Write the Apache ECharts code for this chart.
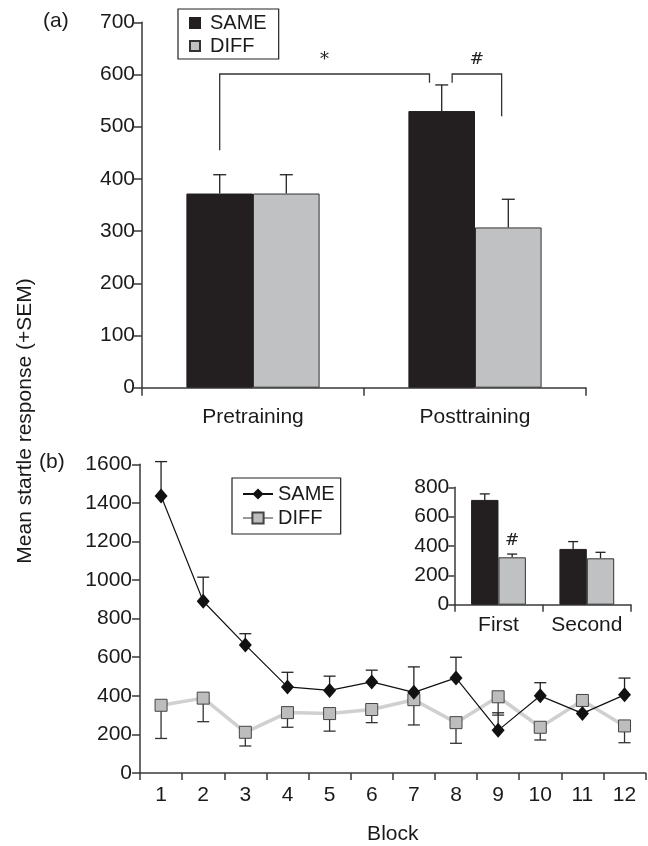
<!DOCTYPE html>
<html><head><meta charset="utf-8">
<script src="https://cdn.jsdelivr.net/npm/echarts@6/dist/echarts.min.js"></script>
<style>html,body{margin:0;padding:0;background:#fff}#c{width:648px;height:846px}</style>
</head><body><div id="c"></div>
<script>
// ---------- Panel (a) ----------
const phaseCats = ['Pretraining', 'Posttraining'];
const phaseSame = [372, 530];
const phaseSameSEM = [36, 50];
const phaseDiff = [372, 307];
const phaseDiffSEM = [36, 54];
const sigLabels = ['*', '#'];
const sigLevels = [[455, 601, 584], [584, 601, 520]]; // left leg bottom, top, right leg bottom
const sigLabelY = 628;

// ---------- Panel (b) ----------
const blocks = ['1','2','3','4','5','6','7','8','9','10','11','12'];
const sameBlock = [1436, 890, 664, 446, 428, 472, 418, 493, 221, 400, 309, 405];
const sameBlockSEM = [178, 125, 58, 76, 74, 61, 132, 107, 91, 68, 10, 87];
const diffBlock = [351, 388, 211, 313, 308, 329, 380, 261, 395, 237, 376, 244];
const diffBlockSEM = [172, 122, 71, 76, 91, 68, 131, 107, 95, 66, 10, 87];

// ---------- Inset ----------
const insetCats = ['First', 'Second'];
const insetSame = [714, 380];
const insetSameSEM = [41, 50];
const insetDiff = [323, 316];
const insetDiffSEM = [22, 41];
const insetSig = ['#', ''];
const insetSigY = 437;

const FONT = 'Liberation Sans, Arial, Helvetica, sans-serif';
const AX = '#3a3a3a';
const TXT = '#1a1a1a';
const BLACK = '#231f20';
const GRAY = '#c0c1c3';
const FS = 21;

function errRender(offFrac, cap, dir, color) {
  return function (params, api) {
    const c = api.value(0), v = api.value(1), s = api.value(2);
    const w = api.size([1, 0])[0];
    const p0 = api.coord([c, v]);
    const p1 = api.coord([c, v + dir * s]);
    const x = p0[0] + offFrac * w;
    return { type: 'group', children: [
      { type: 'line', shape: { x1: x, y1: p0[1], x2: x, y2: p1[1] }, style: { stroke: color, lineWidth: 1.3 } },
      { type: 'line', shape: { x1: x - cap / 2, y1: p1[1], x2: x + cap / 2, y2: p1[1] }, style: { stroke: color, lineWidth: 1.3 } }
    ]};
  };
}

function lbl(margin) {
  return { color: TXT, fontFamily: FONT, fontSize: FS, margin: margin, interval: 0, hideOverlap: false,
    formatter: function (v) { return String(v); } };
}
function line() { return { show: true, lineStyle: { color: AX, width: 1.5 } }; }
function tick(len) { return { show: true, lineStyle: { color: AX, width: 1.5 }, length: len }; }

const chart = echarts.init(document.getElementById('c'), null, { renderer: 'canvas' });

const option = {
  animation: false,
  backgroundColor: '#fff',
  grid: [
    { left: 142, top: 22.3, width: 444, height: 365.4 },
    { left: 140, top: 464.3, width: 505.6, height: 319.2 },
    { left: 454.3, top: 487.3, width: 176.7, height: 117.4 }
  ],
  xAxis: [
    { gridIndex: 0, type: 'category', data: phaseCats, axisLine: line(), axisTick: tick(8),
      splitLine: { show: false }, axisLabel: lbl(19) },
    { gridIndex: 1, type: 'category', data: blocks, axisLine: line(), axisTick: tick(7),
      splitLine: { show: false }, axisLabel: lbl(12),
      name: 'Block', nameLocation: 'middle', nameGap: 51,
      nameTextStyle: { color: TXT, fontFamily: FONT, fontSize: FS } },
    { gridIndex: 2, type: 'category', data: insetCats, axisLine: line(), axisTick: tick(7),
      splitLine: { show: false }, axisLabel: lbl(10) }
  ],
  yAxis: [
    { gridIndex: 0, type: 'value', min: 0, max: 700, interval: 100, axisLine: line(), axisTick: tick(8),
      splitLine: { show: false }, axisLabel: lbl(7) },
    { gridIndex: 1, type: 'value', min: 0, max: 1600, interval: 200, axisLine: line(), axisTick: tick(8),
      splitLine: { show: false }, axisLabel: lbl(8) },
    { gridIndex: 2, type: 'value', min: 0, max: 800, interval: 200, axisLine: line(), axisTick: tick(6),
      splitLine: { show: false }, axisLabel: lbl(5) }
  ],
  legend: [
    { left: 178, top: 9, orient: 'vertical', data: ['SAME', 'DIFF'],
      backgroundColor: '#fff', borderColor: '#222', borderWidth: 1.2, borderRadius: 0,
      padding: [4, 12, 3, 11], itemGap: 3, itemWidth: 10, itemHeight: 10, icon: 'rect',
      textStyle: { color: TXT, fontFamily: FONT, fontSize: 20, padding: [0, 0, 0, 5] } },
    { left: 232, top: 478, orient: 'vertical',
      data: [ { name: 'SAME ' }, { name: 'DIFF ', lineStyle: { color: '#333', width: 1 } } ],
      formatter: function (n) { return n.trim(); },
      backgroundColor: '#fff', borderColor: '#222', borderWidth: 1.2, borderRadius: 0,
      padding: [6, 6, 6, 10], itemGap: 4, itemWidth: 30, itemHeight: 14,
      textStyle: { color: TXT, fontFamily: FONT, fontSize: 20, padding: [0, 0, 0, 0] } }
  ],
  series: [
    // Panel (a) bars
    { name: 'SAME', type: 'bar', xAxisIndex: 0, yAxisIndex: 0, data: phaseSame, barWidth: '30%', barGap: '0%',
      itemStyle: { color: BLACK, borderColor: BLACK, borderWidth: 1 } },
    { name: 'DIFF', type: 'bar', xAxisIndex: 0, yAxisIndex: 0, data: phaseDiff, barWidth: '30%', barGap: '0%',
      itemStyle: { color: GRAY, borderColor: '#333', borderWidth: 1 } },
    { type: 'custom', xAxisIndex: 0, yAxisIndex: 0, z: 1, renderItem: errRender(-0.15, 13, 1, '#222'),
      data: phaseSame.map((v, i) => [i, v, phaseSameSEM[i]]) },
    { type: 'custom', xAxisIndex: 0, yAxisIndex: 0, z: 1, renderItem: errRender(0.15, 13, 1, '#222'),
      data: phaseDiff.map((v, i) => [i, v, phaseDiffSEM[i]]) },
    // significance brackets (a)
    { type: 'custom', xAxisIndex: 0, yAxisIndex: 0, z: 5,
      data: sigLevels.map((l, i) => [i, l[0], l[1], l[2]]),
      renderItem: function (params, api) {
        const i = api.value(0);
        const w = api.size([1, 0])[0];
        const c0 = api.coord([0, 0])[0], c1 = api.coord([1, 0])[0];
        let xl, xr;
        if (i === 0) { xl = c0 - 0.15 * w; xr = c1 - 0.205 * w; }
        else { xl = c1 - 0.103 * w; xr = c1 + 0.12 * w; }
        const yl = api.coord([0, api.value(1)])[1];
        const yt = api.coord([0, api.value(2)])[1];
        const yr = api.coord([0, api.value(3)])[1];
        const ys = api.coord([0, sigLabelY])[1];
        return { type: 'group', children: [
          { type: 'polyline', shape: { points: [[xl, yl], [xl, yt], [xr, yt], [xr, yr]] },
            style: { stroke: '#333', lineWidth: 1.3, fill: null } },
          { type: 'text', style: { x: (xl + xr) / 2, y: ys, text: sigLabels[i], align: 'center', verticalAlign: 'middle',
            fill: '#222', font: (i === 0 ? '18px ' : '17px ') + 'DejaVu Serif, serif' } }
        ]};
      } },
    // Panel (b) error bars
    { type: 'custom', xAxisIndex: 1, yAxisIndex: 1, z: 2, renderItem: errRender(0, 12, 1, '#222'),
      data: sameBlock.map((v, i) => [i, v, sameBlockSEM[i]]) },
    { type: 'custom', xAxisIndex: 1, yAxisIndex: 1, z: 2, renderItem: errRender(0, 12, -1, '#333'),
      data: diffBlock.map((v, i) => [i, v, diffBlockSEM[i]]) },
    // Panel (b) lines
    { name: 'DIFF ', type: 'line', xAxisIndex: 1, yAxisIndex: 1, z: 3, data: diffBlock,
      symbol: 'rect', symbolSize: 12,
      lineStyle: { color: '#d0d0d0', width: 3.5 },
      itemStyle: { color: '#bdbdbd', borderColor: '#444', borderWidth: 1 } },
    { name: 'SAME ', type: 'line', xAxisIndex: 1, yAxisIndex: 1, z: 4, data: sameBlock,
      symbol: 'diamond', symbolSize: [13, 15],
      lineStyle: { color: '#111', width: 1.2 },
      itemStyle: { color: '#111', borderColor: '#111', borderWidth: 0 } },
    // Inset bars
    { name: 'First/Second SAME', type: 'bar', xAxisIndex: 2, yAxisIndex: 2, data: insetSame, barWidth: '31%', barGap: '0%',
      itemStyle: { color: BLACK, borderColor: BLACK, borderWidth: 1 } },
    { name: 'First/Second DIFF', type: 'bar', xAxisIndex: 2, yAxisIndex: 2, data: insetDiff, barWidth: '31%', barGap: '0%',
      itemStyle: { color: GRAY, borderColor: '#333', borderWidth: 1 } },
    { type: 'custom', xAxisIndex: 2, yAxisIndex: 2, z: 1, renderItem: errRender(-0.155, 10, 1, '#222'),
      data: insetSame.map((v, i) => [i, v, insetSameSEM[i]]) },
    { type: 'custom', xAxisIndex: 2, yAxisIndex: 2, z: 1, renderItem: errRender(0.155, 10, 1, '#222'),
      data: insetDiff.map((v, i) => [i, v, insetDiffSEM[i]]) },
    { type: 'custom', xAxisIndex: 2, yAxisIndex: 2, z: 5,
      data: insetSig.map((s, i) => [i, insetSigY]),
      renderItem: function (params, api) {
        const i = api.value(0);
        if (!insetSig[i]) return null;
        const w = api.size([1, 0])[0];
        const p = api.coord([i, api.value(1)]);
        return { type: 'text', style: { x: p[0] + 0.155 * w, y: p[1], text: insetSig[i], align: 'center', verticalAlign: 'middle',
          fill: '#222', font: '17px DejaVu Serif, serif' } };
      } }
  ],
  graphic: [
    { type: 'text', left: 43, top: 11, style: { text: '(a)', fill: TXT, font: FS + 'px ' + FONT } },
    { type: 'text', left: 39, top: 452, style: { text: '(b)', fill: TXT, font: FS + 'px ' + FONT } },
    { type: 'text', x: 25, y: 421, rotation: Math.PI / 2,
      style: { text: 'Mean startle response (+SEM)', fill: TXT, font: FS + 'px ' + FONT, align: 'center', verticalAlign: 'middle' } }
  ]
};
chart.setOption(option);
</script>
</body></html>
